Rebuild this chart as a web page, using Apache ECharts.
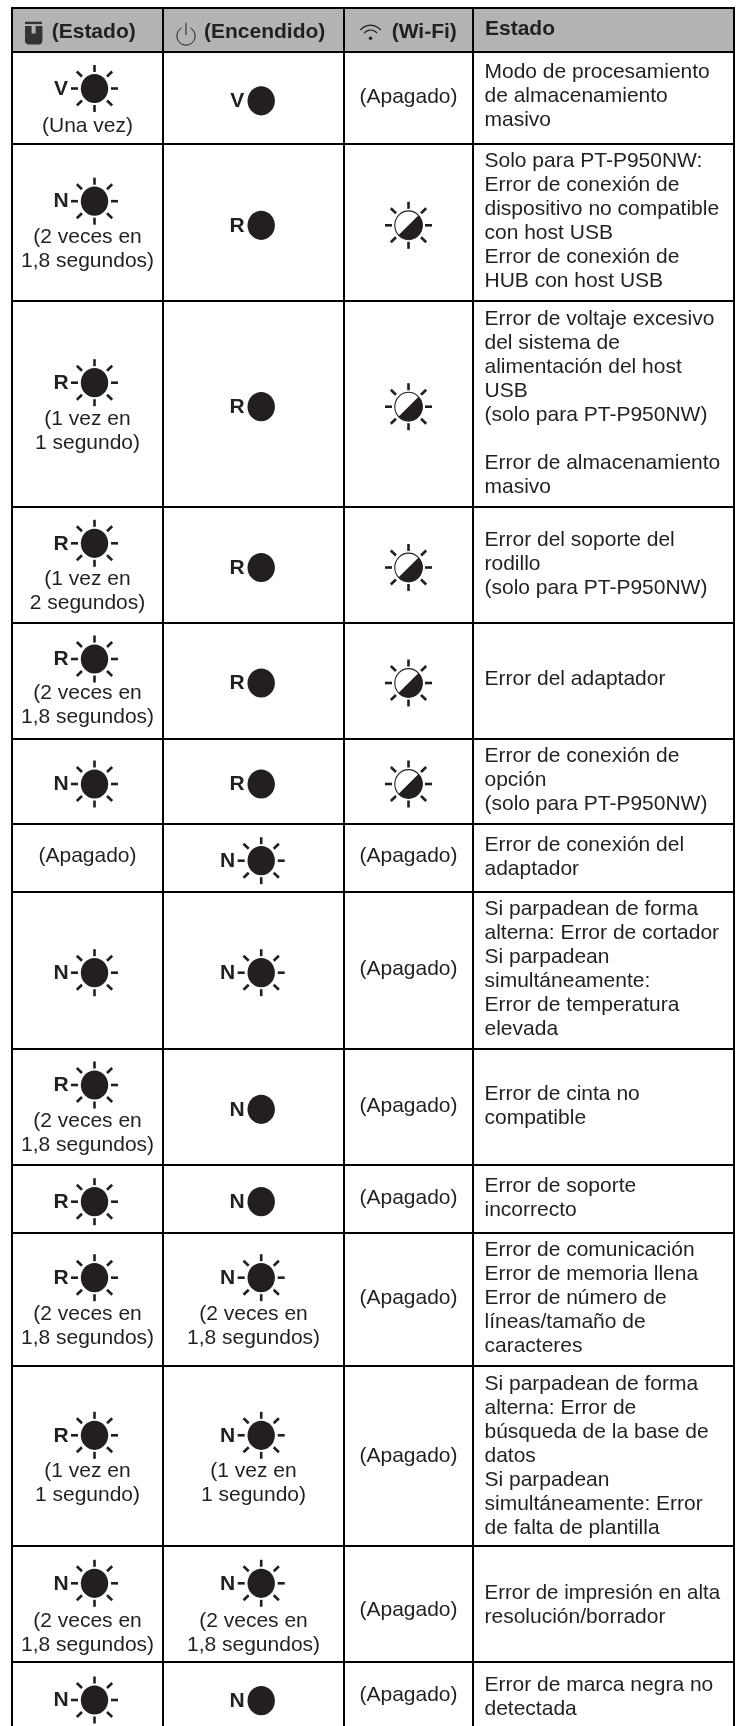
<!DOCTYPE html>
<html>
<head>
<meta charset="utf-8">
<style>html,body{margin:0;padding:0;background:#fff}#c{width:737px;height:1726px}</style>
<script src="https://cdn.jsdelivr.net/npm/echarts@6/dist/echarts.min.js"></script>
</head>
<body>
<div id="c"></div>
<script>
// ---- table content ----
const headers = ['(Estado)', '(Encendido)', '(Wi-Fi)', 'Estado'];
const stateLed = ['V','N','R','R','R','N','','N','R','R','R','R','N','N'];
const stateNote = ['(Una vez)','(2 veces en\n1,8 segundos)','(1 vez en\n1 segundo)','(1 vez en\n2 segundos)','(2 veces en\n1,8 segundos)','','(Apagado)','','(2 veces en\n1,8 segundos)','','(2 veces en\n1,8 segundos)','(1 vez en\n1 segundo)','(2 veces en\n1,8 segundos)',''];
const powerLed = ['V','R','R','R','R','R','N','N','N','N','N','N','N','N'];
const powerBlink = [0,0,0,0,0,0,1,1,0,0,1,1,1,0];
const powerNote = ['','','','','','','','','','','(2 veces en\n1,8 segundos)','(1 vez en\n1 segundo)','(2 veces en\n1,8 segundos)',''];
const wifiState = ['off','half','half','half','half','half','off','off','off','off','off','off','off','off'];
const descriptions = [
 'Modo de procesamiento\nde almacenamiento\nmasivo',
 'Solo para PT-P950NW:\nError de conexión de\ndispositivo no compatible\ncon host USB\nError de conexión de\nHUB con host USB',
 'Error de voltaje excesivo\ndel sistema de\nalimentación del host\nUSB\n(solo para PT-P950NW)\n\nError de almacenamiento\nmasivo',
 'Error del soporte del\nrodillo\n(solo para PT-P950NW)',
 'Error del adaptador',
 'Error de conexión de\nopción\n(solo para PT-P950NW)',
 'Error de conexión del\nadaptador',
 'Si parpadean de forma\nalterna: Error de cortador\nSi parpadean\nsimultáneamente:\nError de temperatura\nelevada',
 'Error de cinta no\ncompatible',
 'Error de soporte\nincorrecto',
 'Error de comunicación\nError de memoria llena\nError de número de\nlíneas/tamaño de\ncaracteres',
 'Si parpadean de forma\nalterna: Error de\nbúsqueda de la base de\ndatos\nSi parpadean\nsimultáneamente: Error\nde falta de plantilla',
 'Error de impresión en alta\nresolución/borrador',
 'Error de marca negra no\ndetectada'
];

// ---- table layout (reference pixels) ----
const columnLines = [12, 163, 344, 473, 734];
const rowLines = [8, 52, 144, 301, 507, 623, 739, 824, 892, 1049, 1165, 1233, 1366, 1546, 1662];
const stateLedY = [88.5,201.2,382.7,543.3,659,784,0,972.7,1085,1201.7,1277.7,1435.3,1583.3,1700];
const stateNoteY = [126,237.3,419.3,579,693.3,0,856.7,0,1121.7,0,1314,1471.7,1621.7,0];
const powerLedY = [100.8,225.3,406.7,567.5,683,784,860.7,972.7,1109.3,1201.7,1277.7,1435.3,1583.3,1700.7];
const wifiY = [97.3,225.3,406.7,567.5,683,784,856.7,969.3,1106,1198.3,1298.3,1456,1610,1695];
const descY = [72.7,161.3,319,540,679.3,756,845,909.3,1094,1186,1250,1384,1593,1685];
const tightLines = {'Error de impresión en alta':0.975};

const INK = '#231f20', FONT = '"Liberation Sans", Arial, sans-serif', SIZE = 21, LINE = 24;

function textEl(api, str, x, y, opt) {
  const p = api.coord([x, y]);
  return { type:'text', silent:true, style:Object.assign({ text:str, x:p[0], y:p[1], fill:INK, fontFamily:FONT, fontSize:SIZE, align:'left', verticalAlign:'middle' }, opt||{}) };
}
function multi(api, str, x, y, opt) {
  return str.split('\n').map((s,i)=> {
    const el = textEl(api, s, x, y + i*LINE, opt);
    if (tightLines[s]) { const p = api.coord([x,y]); el.scaleX = tightLines[s]; el.originX = p[0]; el.originY = p[1]; }
    return el;
  });
}
function rays(api, cx, cy) {
  const segs = [[0,-16.5,0,-23.5],[0,16.5,0,23.5],[-16.5,0,-23.5,0],[16.5,0,23.5,0],
                [-12.5,-12,-17.7,-17],[12.5,-12,17.7,-17],[-12.5,12,-17.7,17],[12.5,12,17.7,17]];
  return segs.map(s=>{
    const a = api.coord([cx+s[0],cy+s[1]]), b = api.coord([cx+s[2],cy+s[3]]);
    return {type:'line', silent:true, shape:{x1:a[0],y1:a[1],x2:b[0],y2:b[1]}, style:{stroke:INK,lineWidth:2.6}};
  });
}
function led(api, cx, cy, letter, blink) {
  const p = api.coord([cx,cy]), out = [];
  out.push({type:'ellipse', silent:true, shape:{cx:p[0],cy:p[1],rx:13.7,ry:14.6}, style:{fill:INK}});
  if (blink) out.push(...rays(api,cx,cy));
  out.push(textEl(api, letter, cx-(blink?33.5:24), cy+0.5, {align:'center', fontWeight:'bold'}));
  return out;
}
function halfLed(api, cx, cy) {
  const p = api.coord([cx,cy]);
  return [
    ...rays(api,cx,cy),
    {type:'ellipse', silent:true, shape:{cx:p[0],cy:p[1],rx:13.7,ry:14.4}, style:{fill:'#fff',stroke:INK,lineWidth:1.1}},
    {type:'arc', silent:true, shape:{cx:p[0],cy:p[1],r:14.2,startAngle:-Math.PI/4,endAngle:Math.PI*3/4,clockwise:true}, style:{fill:INK,stroke:null}}
  ];
}
function lineRect(api,x1,y1,x2,y2){
  const a=api.coord([x1,y1]), b=api.coord([x2,y2]);
  return {type:'rect',silent:true,shape:{x:a[0],y:a[1],width:b[0]-a[0],height:b[1]-a[1]},style:{fill:'#000'}};
}

function renderHeader(params, api) {
  const a = api.coord([columnLines[0],rowLines[0]]), b = api.coord([columnLines[4],rowLines[1]]);
  const kids = [{type:'rect',silent:true,shape:{x:a[0],y:a[1],width:b[0]-a[0],height:b[1]-a[1]},style:{fill:'#b3b3b3'}}];
  // status icon
  const s = api.coord([25,21.7]);
  kids.push({type:'rect',silent:true,shape:{x:s[0],y:s[1],width:17,height:2.4},style:{fill:'#333'}});
  const b0 = api.coord([25,26]);
  kids.push({type:'rect',silent:true,shape:{x:b0[0],y:b0[1],width:17.4,height:18.4,r:[0,0,4,4]},style:{fill:'#333'}});
  const n0 = api.coord([31.6,26]);
  kids.push({type:'rect',silent:true,shape:{x:n0[0],y:n0[1],width:4,height:7.5},style:{fill:'#b3b3b3'}});
  // power icon
  const c = api.coord([186,36]);
  kids.push({type:'arc',silent:true,shape:{cx:c[0],cy:c[1],r:9.2,startAngle:-Math.PI/2+0.5,endAngle:-Math.PI/2-0.5+Math.PI*2,clockwise:true},style:{stroke:INK,lineWidth:1,fill:null}});
  const l0 = api.coord([186,22.7]), l1 = api.coord([186,35]);
  kids.push({type:'line',silent:true,shape:{x1:l0[0],y1:l0[1],x2:l1[0],y2:l1[1]},style:{stroke:INK,lineWidth:1}});
  // wifi icon
  const w = api.coord([370.5,38.2]);
  [13,8.2].forEach(r=>kids.push({type:'arc',silent:true,shape:{cx:w[0],cy:w[1],r:r,startAngle:-Math.PI/2-0.9,endAngle:-Math.PI/2+0.9,clockwise:true},style:{stroke:INK,lineWidth:1.2,fill:null}}));
  kids.push({type:'circle',silent:true,shape:{cx:w[0],cy:w[1],r:1.7},style:{fill:INK}});
  kids.push(textEl(api,headers[0],51.7,32,{fontWeight:'bold'}));
  kids.push(textEl(api,headers[1],204,32,{fontWeight:'bold'}));
  kids.push(textEl(api,headers[2],391.7,32,{fontWeight:'bold'}));
  kids.push(textEl(api,headers[3],485,29.5,{fontWeight:'bold'}));
  return {type:'group',children:kids};
}

function renderRow(params, api) {
  const i = api.value(0), kids = [];
  const c1 = 87.5, c2 = 253.5, c3 = 408.5;
  if (stateLed[i]) kids.push(...led(api, 94.5, stateLedY[i], stateLed[i], true));
  if (stateNote[i]) kids.push(...multi(api, stateNote[i], c1, stateNoteY[i], {align:'center'}));
  kids.push(...led(api, 261.2, powerLedY[i], powerLed[i], !!powerBlink[i]));
  if (powerNote[i]) kids.push(...multi(api, powerNote[i], c2, stateNoteY[i], {align:'center'}));
  if (wifiState[i]==='half') kids.push(...halfLed(api, c3, wifiY[i]));
  else kids.push(textEl(api,'(Apagado)',c3,wifiY[i],{align:'center'}));
  kids.push(...multi(api, descriptions[i], 484.5, descY[i]));
  return {type:'group',children:kids};
}

function renderGrid(params, api) {
  const kids = [];
  const w = 1;
  rowLines.forEach(y=>kids.push(lineRect(api,columnLines[0]-w,y-w,columnLines[4]+w,y+w)));
  columnLines.forEach(x=>kids.push(lineRect(api,x-w,rowLines[0]-w,x+w,1726)));
  return {type:'group',children:kids};
}

const chart = echarts.init(document.getElementById('c'), null, {renderer:'canvas', width:737, height:1726});
chart.setOption({
  animation:false,
  backgroundColor:'#fff',
  grid:{left:0,right:0,top:0,bottom:0},
  tooltip:{show:false},
  xAxis:{type:'value',min:0,max:737,show:false},
  yAxis:{type:'value',min:0,max:1726,inverse:true,show:false},
  series:[
    {type:'custom',renderItem:renderHeader,data:[[0]],clip:false,silent:true,z:1},
    {type:'custom',renderItem:renderRow,data:descriptions.map((_,i)=>[i]),clip:false,silent:true,z:2},
    {type:'custom',renderItem:renderGrid,data:[[0]],clip:false,silent:true,z:3}
  ]
});
</script>
</body>
</html>
